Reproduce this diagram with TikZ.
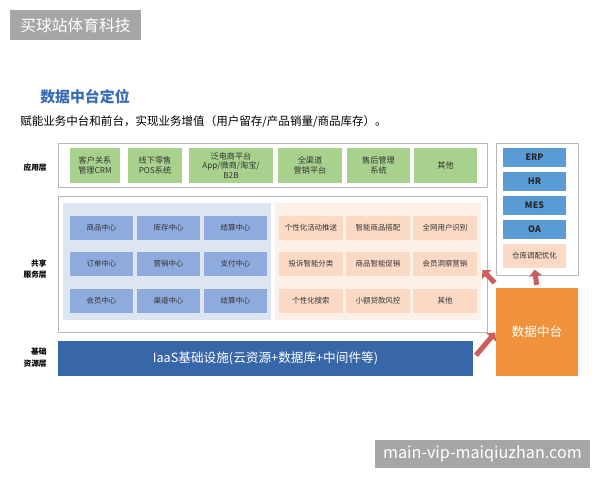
\documentclass[tikz,border=0pt]{standalone}
\usepackage{fontspec}
\setmainfont{Noto Sans CJK SC}
\usetikzlibrary{arrows.meta}

\definecolor{appgreen}{HTML}{A9D18E}
\definecolor{ctrpanel}{HTML}{DEE5F2}
\definecolor{ctrblue}{HTML}{8FAADC}
\definecolor{aipanel}{HTML}{FDF0E7}
\definecolor{aipeach}{HTML}{FADAC5}
\definecolor{sysblue}{HTML}{5B9BD5}
\definecolor{iaasblue}{HTML}{3767A8}
\definecolor{dmporange}{HTML}{F0923B}
\definecolor{arrowred}{HTML}{CD5E5E}
\definecolor{titleblue}{HTML}{3A6BB5}
\definecolor{markgray}{HTML}{A6A6A6}

\begin{document}
\begin{tikzpicture}[x=0.025cm, y=-0.025cm,
    sized/.style 2 args={minimum width=#1*0.025cm, minimum height=#2*0.025cm},
    box/.style={inner sep=0pt, align=center, text=black!80},
    frame/.style={box, draw=black!28, fill=white, line width=0.5pt},
    appbox/.style={box, fill=appgreen, sized={#1}{35},
        font=\fontsize{5.8}{6.6}\selectfont},
    centerbox/.style={box, fill=ctrblue, sized={63}{24},
        font=\fontsize{5.3}{6}\selectfont},
    aibox/.style={box, fill=aipeach, sized={64}{24},
        font=\fontsize{5.3}{6}\selectfont},
    sysbox/.style={box, fill=sysblue, sized={63}{19},
        font=\bfseries\fontsize{6.3}{7}\selectfont, text=black!85},
    layer/.style={inner sep=0pt, anchor=east, align=right,
        font=\bfseries\fontsize{5.5}{8}\selectfont},
    bigarrow/.style={draw=arrowred, line width=3.6pt,
        -{Triangle[length=4.5pt, width=9pt]}},
    markbox/.style={inner sep=0pt, fill=markgray, text=white}]

    % page
    \useasboundingbox[fill=white] (0,0) rectangle (600,480);

    % watermarks
    \node[markbox, sized={131}{30}, font=\fontsize{11.2}{12}\selectfont]
        (topmark) at (75.5,25) {买球站体育科技};
    \node[markbox, sized={215}{28}, font=\fontsize{11.5}{12}\selectfont]
        (botmark) at (482.5,454) {main-vip-maiqiuzhan.com};

    % title
    \node[anchor=west, inner sep=0pt, text=titleblue,
        font=\bfseries\fontsize{10.6}{12}\selectfont] (title) at (40,97) {数据中台定位};
    \node[anchor=west, inner sep=0pt,
        font=\fontsize{8.2}{9}\selectfont] (subtitle) at (20,122)
        {赋能业务中台和前台，实现业务增值（用户留存/产品销量/商品库存）。};

    % application layer
    \node[frame, sized={429}{44}] (app) at (272.5,165) {};
    \node[layer] (applbl) at (47,168) {应用层};
    \foreach \name/\x/\w/\txt in {crm/95/50/{客户关系\\管理CRM},
        pos/155/54/{线下零售\\POS系统},
        ec/231/84/{泛电商平台\\App/微商/淘宝/\\B2B},
        omni/310/64/{全渠道\\营销平台},
        after/378.5/63/{售后管理\\系统},
        other/445.5/63/{其他}}
        \node[appbox=\w] (\name) at (\x,165.5) {\txt};

    % back office systems
    \node[frame, sized={82}{132}] (sys) at (537,209) {};
    \foreach \name/\y in {ERP/157.5, HR/181.5, MES/205.5, OA/229.5}
        \node[sysbox] (\name) at (534.5,\y) {\name};
    \node[box, fill=aipeach, sized={63}{24},
        font=\fontsize{5.3}{6}\selectfont] (wh) at (534.5,256) {仓库调配优化};

    % shared service layer
    \node[frame, sized={429}{136}] (svc) at (272.5,264) {};
    \node[layer] (svclbl) at (47,269) {共享\\服务层};
    \node[box, fill=ctrpanel, sized={208}{117}] (ctrs) at (167,261.5) {};
    \node[box, fill=aipanel, sized={206}{117}] (ais) at (378,261.5) {};
    \foreach \txt [count=\i from 0] in {商品中心,库存中心,结算中心,
        订单中心,营销中心,支付中心,会员中心,渠道中心,结算中心}{
        \pgfmathtruncatemacro{\col}{mod(\i,3)}
        \pgfmathtruncatemacro{\row}{\i/3}
        \node[centerbox] (ctr\i) at (101.5+67*\col, 227.5+36.5*\row) {\txt};
    }
    \foreach \txt [count=\i from 0] in {个性化活动推送,智能商品搭配,全网用户识别,
        投诉智能分类,商品智能促销,会员洞察营销,个性化搜索,小额贷款风控,其他}{
        \pgfmathtruncatemacro{\col}{mod(\i,3)}
        \pgfmathtruncatemacro{\row}{\i/3}
        \node[aibox] (ai\i) at (311+67*\col, 227.5+36.5*\row) {\txt};
    }

    % base layer
    \node[layer] (baselbl) at (47,357.5) {基础\\资源层};
    \node[box, fill=iaasblue, text=white, sized={415}{35},
        font=\fontsize{9}{10}\selectfont] (iaas) at (265.5,358.5)
        {IaaS基础设施(云资源+数据库+中间件等)};

    % data middle platform
    \node[box, fill=dmporange, text=white, sized={82}{88},
        font=\fontsize{9}{10}\selectfont] (dmp) at (537,332) {数据中台};

    % arrows
    \draw[bigarrow, shorten <=3pt, shorten >=0.5pt] (iaas.east) -- (dmp.west);
    \draw[bigarrow, shorten <=2pt, shorten >=1pt] (dmp.north) -- (wh.south);
    \draw[bigarrow] ([shift={(-1,-5)}]dmp.north west) -- ([shift={(-5,6)}]svc.east);

\end{tikzpicture}
\end{document}
